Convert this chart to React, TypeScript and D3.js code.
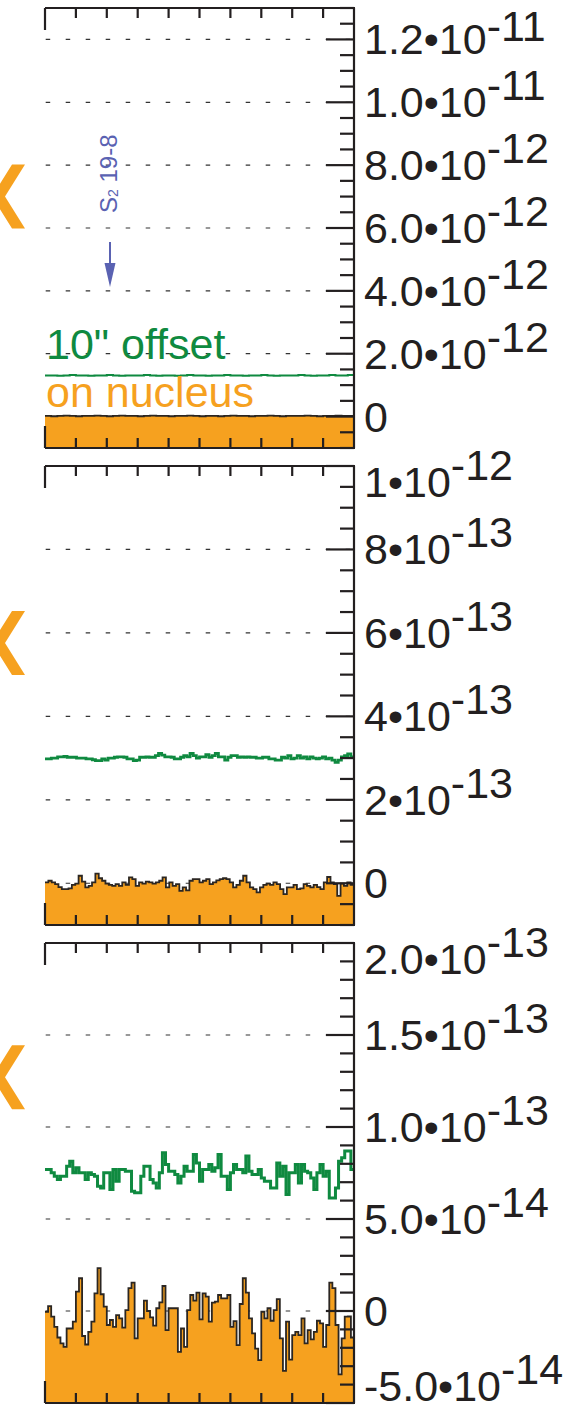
import React from "react";
import * as d3 from "d3";

const FONT = "'Liberation Sans', Arial, Helvetica, sans-serif";
const ORANGE = "#F6A11F";
const GREEN = "#0F8A40";
const BLUE = "#5A62B2";
const INK = "#231F20";

// ---------- DATA ----------
// Panel 1 (values in units of 1e-12)
const offset1 = [1.31, 1.31, 1.30, 1.31, 1.32, 1.31, 1.31, 1.30, 1.31, 1.31, 1.32, 1.31, 1.30, 1.31, 1.31, 1.31, 1.32, 1.31, 1.30, 1.31, 1.31, 1.30, 1.31, 1.32, 1.31, 1.31, 1.30, 1.31, 1.31, 1.32, 1.31, 1.31, 1.30, 1.31, 1.31, 1.32, 1.31, 1.30, 1.31, 1.31, 1.31, 1.32, 1.31, 1.30, 1.31, 1.31, 1.32, 1.31, 1.31, 1.32];
const nucleus1 = [0.02, 0.01, 0.02, 0.03, 0.02, 0.01, 0.02, 0.02, 0.03, 0.02, 0.01, 0.02, 0.03, 0.02, 0.02, 0.01, 0.02, 0.03, 0.02, 0.02, 0.01, 0.02, 0.02, 0.03, 0.02, 0.01, 0.02, 0.02, 0.01, 0.02, 0.03, 0.02, 0.02, 0.01, 0.02, 0.02, 0.03, 0.02, 0.01, 0.02, 0.02, 0.02, 0.03, 0.02, 0.01, 0.02, 0.02, 0.03, 0.02, 0.02];

// Panel 2 (values in units of 1e-13)
const offset2 = [2.98, 2.98, 3.00, 3.00, 3.03, 3.03, 3.04, 3.02, 3.02, 3.02,
  3.00, 3.00, 3.00, 2.98, 2.98, 2.96, 2.94, 2.94, 2.98, 2.95,
  3.00, 3.00, 3.02, 3.03, 3.03, 3.02, 2.98, 2.98, 2.94, 2.95,
  3.02, 3.02, 3.03, 3.02, 3.02, 3.06, 3.11, 3.07, 3.03, 3.03,
  3.02, 2.98, 2.98, 3.02, 3.06, 3.03, 3.11, 3.06, 3.00, 3.03,
  3.03, 3.08, 3.02, 3.06, 3.11, 3.03, 3.03, 2.95, 3.02, 3.06,
  3.06, 3.02, 3.03, 3.02, 3.03, 3.02, 3.02, 3.00, 3.00, 3.02,
  3.02, 2.98, 2.98, 2.95, 2.95, 3.02, 3.00, 3.06, 2.98, 3.00,
  3.06, 3.00, 3.03, 2.98, 3.03, 3.00, 2.98, 3.00, 3.03, 2.98,
  3.00, 2.95, 2.90, 2.95, 3.03, 3.06, 3.10, 3.03];
const nucleus2 = [0.02, 0.06, 0.02, -0.02, -0.09, -0.14, -0.14, -0.12, -0.04, -0.01,
  0.18, 0.04, -0.10, -0.06, 0.02, 0.23, 0.12, 0.06, -0.01, -0.04,
  -0.06, -0.02, -0.06, 0.02, -0.04, 0.14, 0.10, -0.06, 0.02, -0.01,
  0.04, 0.02, -0.01, 0.02, 0.06, 0.14, -0.10, 0.02, -0.06, -0.02,
  -0.18, -0.10, -0.17, 0.06, 0.10, 0.10, 0.02, 0.06, 0.10, -0.02,
  0.02, 0.07, 0.10, 0.12, 0.10, 0.02, -0.10, -0.04, 0.06, 0.18,
  0.02, -0.10, -0.14, -0.22, -0.10, -0.04, -0.01, -0.04, 0.02, -0.02,
  -0.14, -0.26, -0.10, -0.10, -0.04, -0.14, -0.12, -0.02, -0.06, -0.10,
  -0.04, -0.09, -0.14, 0.02, 0.15, 0.02, -0.02, -0.30, -0.01, -0.06,
  0.02, -0.04];

// Panel 3 (values in units of 1e-14)
const offset3 = [7.69, 7.69, 7.51, 7.33, 7.14, 7.33, 7.33, 7.87, 8.14, 7.51,
  7.78, 7.51, 7.51, 7.14, 7.51, 7.42, 7.33, 6.78, 6.69, 7.51,
  7.51, 6.60, 7.69, 7.05, 7.69, 7.69, 7.60, 7.60, 6.51, 6.42,
  6.42, 7.33, 7.87, 7.87, 7.14, 6.96, 6.69, 7.51, 8.60, 7.96,
  7.60, 7.60, 7.42, 6.96, 7.33, 7.87, 7.60, 7.60, 8.51, 8.05,
  7.05, 7.69, 7.69, 7.96, 7.60, 7.78, 8.51, 7.33, 7.33, 6.60,
  7.51, 7.96, 7.69, 7.69, 7.51, 8.42, 7.60, 7.42, 7.42, 7.69,
  7.23, 7.05, 7.05, 6.69, 6.69, 8.05, 7.33, 7.87, 6.33, 7.51,
  7.51, 7.96, 6.96, 7.96, 7.60, 7.51, 7.23, 6.60, 7.51, 7.96,
  7.33, 7.60, 6.14, 6.14, 6.69, 8.14, 8.33, 8.69, 8.69, 7.69];
const nucleus3 = [-0.04, 0.27, -0.31, -0.86, -1.44, -1.76, -1.95, -0.95, -0.95, -0.58,
  1.05, 1.78, -1.36, -1.82, -1.13, -0.58, 0.96, 2.33, 0.91, 0.24,
  -0.76, -0.49, -0.86, -0.22, -0.40, -0.90, 0.05, 1.24, 1.54, -1.49,
  -0.40, -0.40, 0.56, 0.00, -0.35, -0.80, 0.15, 0.47, 1.36, -1.04,
  0.15, 0.15, 0.15, -2.22, -0.95, -1.95, 0.05, 0.87, 0.56, 1.00,
  -0.45, 0.96, 0.78, -0.58, 0.45, 0.51, 0.87, 0.69, 0.69, 0.87,
  -0.86, -0.55, -1.85, 0.38, 1.78, 1.00, -0.40, -1.22, -2.04, -2.67,
  -0.04, -0.40, 0.15, -0.53, 0.05, 0.65, -1.49, -3.25, -0.58, -2.64,
  -1.31, -1.13, -1.31, -0.40, -1.76, -1.04, -1.54, -1.13, -0.53, -0.67,
  -1.95, -0.76, 1.54, 1.24, -0.76, -3.44, -1.49, -0.31, -0.30, -1.44];

// Axis definitions
const domain1 = [-1e-12, 1.3e-11];
const majors1 = [0, 2e-12, 4e-12, 6e-12, 8e-12, 1e-11, 1.2e-11];
const labels1 = ["0", "2.0•10^-12", "4.0•10^-12", "6.0•10^-12", "8.0•10^-12", "1.0•10^-11", "1.2•10^-11"];
const minorStep1 = 5e-13;

const domain2 = [-1e-13, 1e-12];
const majors2 = [0, 2e-13, 4e-13, 6e-13, 8e-13, 1e-12];
const labels2 = ["0", "2•10^-13", "4•10^-13", "6•10^-13", "8•10^-13", "1•10^-12"];
const minorStep2 = 5e-14;

const domain3 = [-5e-14, 2e-13];
const majors3 = [-5e-14, 0, 5e-14, 1e-13, 1.5e-13, 2e-13];
const labels3 = ["-5.0•10^-14", "0", "5.0•10^-14", "1.0•10^-13", "1.5•10^-13", "2.0•10^-13"];
const minorStep3 = 1e-14;

const xTickCount = 10;
const legendLabels = ["10\" offset", "on nucleus"];
const chevronValues = [7e-12, 5.76e-13, 1.27e-13];

// ---------- LAYOUT ----------
const W = 568, H = 1410;
const XL = 45, XR = 354;
const LABEL_SIZE = 43;
const panels = [
  { top: 8, bottom: 448, domain: domain1, majors: majors1, labels: labels1, minor: minorStep1, offset: offset1.map(v => v * 1e-12), nucleus: nucleus1.map(v => v * 1e-12), greenW: 2 },
  { top: 466, bottom: 925, domain: domain2, majors: majors2, labels: labels2, minor: minorStep2, offset: offset2.map(v => v * 1e-13), nucleus: nucleus2.map(v => v * 1e-13), greenW: 2.8 },
  { top: 943, bottom: 1403, domain: domain3, majors: majors3, labels: labels3, minor: minorStep3, offset: offset3.map(v => v * 1e-14), nucleus: nucleus3.map(v => v * 1e-14), greenW: 3 },
];

function stepPoints(vals: number[]): [number, number][] {
  const pts: [number, number][] = vals.map((v, i) => [i, v]);
  pts.push([vals.length, vals[vals.length - 1]]);
  return pts;
}

function TickLabel({ y, label, top, bottom }: { y: number; label: string; top: number; bottom: number }) {
  let yy = y;
  if (Math.abs(y - top) < 2) yy += 16;
  if (Math.abs(y - bottom) < 2) yy -= 17;
  const [mant, exp] = label.split("^");
  const raise = yy < 50 ? -13 : -17;
  return (
    <text x={364} y={yy + 15} fontSize={LABEL_SIZE} fontFamily={FONT} fill={INK}>
      {mant}
      {exp !== undefined && <tspan dy={raise}>{exp}</tspan>}
    </text>
  );
}

function PanelView({ p, idx }: { p: any; idx: number }) {
  const y = d3.scaleLinear().domain(p.domain).range([p.bottom, p.top]);
  const xo = d3.scaleLinear().domain([0, p.offset.length]).range([XL, XR]);
  const xn = d3.scaleLinear().domain([0, p.nucleus.length]).range([XL, XR]);
  const clipId = `clip${idx}`;

  const area = d3.area<[number, number]>().x(d => xn(d[0])).y0(p.bottom).y1(d => y(d[1])).curve(d3.curveStepAfter);
  const lineN = d3.line<[number, number]>().x(d => xn(d[0])).y(d => y(d[1])).curve(d3.curveStepAfter);
  const lineO = d3.line<[number, number]>().x(d => xo(d[0])).y(d => y(d[1])).curve(d3.curveStepAfter);

  const k0 = Math.ceil(p.domain[0] / p.minor - 1e-6);
  const k1 = Math.floor(p.domain[1] / p.minor + 1e-6);
  const minorTicks = d3.range(k0, k1 + 1).map(k => k * p.minor);
  const isMajor = (v: number) => p.majors.some((m: number) => Math.abs(m - v) < p.minor * 0.01);

  const xTicks = d3.range(0, xTickCount + 1).map(k => XL + (k * (XR - XL)) / xTickCount);
  const cy = y(chevronValues[idx]);

  return (
    <g>
      <defs>
        <clipPath id={clipId}>
          <rect x={XL} y={p.top} width={XR - XL} height={p.bottom - p.top} />
        </clipPath>
      </defs>
      {p.majors.filter((m: number) => y(m) > p.top + 2 && y(m) < p.bottom - 2).map((m: number, i: number) => (
        <line key={"g" + i} x1={XL + 0.7} x2={XR} y1={y(m)} y2={y(m)} stroke="#333" strokeWidth={1.2} strokeDasharray="4.5 15.5" />
      ))}
      <g clipPath={`url(#${clipId})`}>
        <path d={area(stepPoints(p.nucleus)) || ""} fill={ORANGE} />
        <path d={lineN(stepPoints(p.nucleus)) || ""} fill="none" stroke="#2b2622" strokeWidth={1.8} />
        <path d={lineO(stepPoints(p.offset)) || ""} fill="none" stroke={GREEN} strokeWidth={p.greenW} />
      </g>
      <line x1={XL} x2={XR + 1} y1={p.top} y2={p.top} stroke={INK} strokeWidth={2.2} />
      <line x1={XL} x2={XR + 1} y1={p.bottom} y2={p.bottom} stroke={INK} strokeWidth={2.2} />
      <line x1={XR} x2={XR} y1={p.top} y2={p.bottom} stroke={INK} strokeWidth={2.2} />
      {xTicks.slice(0, xTickCount).map((xx, i) => (
        <g key={"x" + i}>
          <line x1={xx} x2={xx} y1={p.top} y2={p.top + (i === 0 ? 22 : 10)} stroke={INK} strokeWidth={2.2} />
          <line x1={xx} x2={xx} y1={p.bottom} y2={p.bottom - (i === 0 ? 22 : 10)} stroke={INK} strokeWidth={2.2} />
        </g>
      ))}
      {minorTicks.map((v, i) => (
        <line key={"y" + i} x1={XR - (isMajor(v) ? 28 : 14)} x2={XR} y1={y(v)} y2={y(v)} stroke={INK} strokeWidth={2.2} />
      ))}
      {p.majors.map((m: number, i: number) => (
        <TickLabel key={"l" + i} y={y(m)} label={p.labels[i]} top={p.top} bottom={p.bottom} />
      ))}
      <polygon
        points={[[12, -32], [25, -32], [5, 0], [25, 32], [12, 32], [-8, 0]].map(([a, b]) => `${a},${cy + b}`).join(" ")}
        fill={ORANGE}
      />
    </g>
  );
}

export default function App() {
  return (
    <div style={{ position: "absolute", left: 0, top: 0 }}>
      <svg width={W} height={H} style={{ display: "block", background: "#fff" }}>
        {panels.map((p, i) => (
          <PanelView key={i} p={p} idx={i} />
        ))}
        <text x={46} y={359} fontSize={LABEL_SIZE} fontFamily={FONT} fill={GREEN}>{legendLabels[0]}</text>
        <text x={46} y={407} fontSize={LABEL_SIZE} fontFamily={FONT} fill={ORANGE}>{legendLabels[1]}</text>
        <text transform="translate(117,213) rotate(-90)" fontSize={24} fontFamily={FONT} fill={BLUE}>
          S<tspan fontSize={14} dy={1}>2</tspan><tspan dy={-1}> 19-8</tspan>
        </text>
        <line x1={110} x2={110} y1={242} y2={266} stroke={BLUE} strokeWidth={2} />
        <polygon points="104.5,263 115.5,263 110,287" fill={BLUE} />
      </svg>
    </div>
  );
}
